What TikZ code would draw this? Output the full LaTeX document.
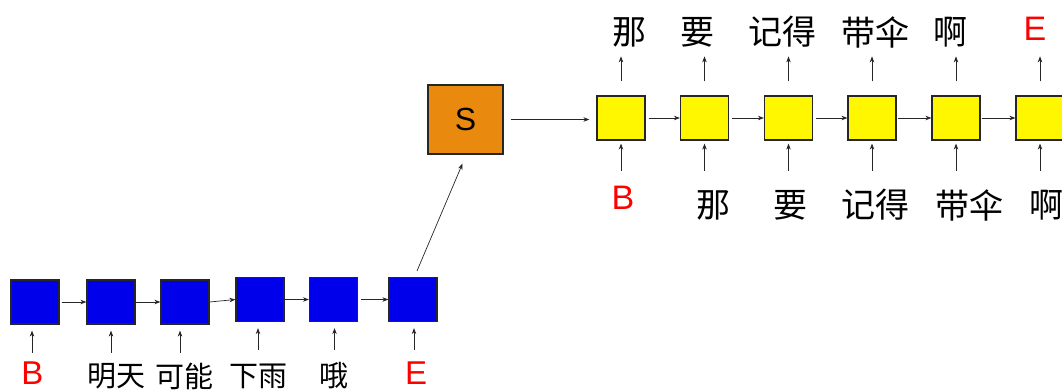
\documentclass[tikz,border=0pt]{standalone}
\usepackage{fontspec}
\setmainfont{Liberation Sans}
\newfontfamily\cjk{Noto Sans CJK SC}
\usetikzlibrary{arrows.meta}
\definecolor{encblue}{RGB}{0,0,235}
\definecolor{ctxorange}{RGB}{233,138,14}
\definecolor{decyellow}{RGB}{255,247,0}
\definecolor{tokred}{RGB}{255,0,0}

\begin{document}
\begin{tikzpicture}[x=1pt,y=-1pt,
  cell/.style={draw=black!85,line width=1.2pt,minimum width=48pt,minimum height=44pt,inner sep=0pt},
  enc/.style={cell,fill=encblue},
  dec/.style={cell,fill=decyellow},
  ctx/.style={draw=black!85,line width=1.2pt,fill=ctxorange,minimum width=75pt,minimum height=69pt,inner sep=0pt,font=\fontsize{32}{32}\selectfont},
  arr/.style={-{Stealth[length=6pt,width=4.5pt]},line width=0.7pt,draw=black!85},
  lat/.style={inner sep=0pt,text=tokred,font=\fontsize{34}{34}\selectfont},
  latsmall/.style={lat,font=\fontsize{33}{33}\selectfont},
  zh/.style={inner sep=0pt,font=\fontsize{34}{34}\cjk},
  zhs/.style={inner sep=0pt,font=\fontsize{29}{29}\cjk},
]
\useasboundingbox (0,0) rectangle (1062,391);
\begin{scope}
\clip (0,0) rectangle (1062,391);

% encoder cells
\node[enc] (e1) at (35,302) {};
\node[enc] (e2) at (111,302) {};
\node[enc] (e3) at (185,302) {};
\node[enc] (e4) at (260,299.5) {};
\node[enc] (e5) at (333.5,299.5) {};
\node[enc] (e6) at (413,299.5) {};

% context vector
\node[ctx] (s) at (465.5,119.5) {S};

% decoder cells
\node[dec] (d1) at (621,118) {};
\node[dec] (d2) at (704.5,118) {};
\node[dec] (d3) at (788.5,118) {};
\node[dec] (d4) at (872,118) {};
\node[dec] (d5) at (956,118) {};
\node[dec] (d6) at (1040,118) {};

% encoder inputs
\node[latsmall] (i1) at (32.5,373) {B};
\node[zhs] (i2) at (116,376) {明天};
\node[zhs] (i3) at (184,376) {可能};
\node[zhs] (i4) at (258,376) {下雨};
\node[zhs] (i5) at (334,376) {哦};
\node[latsmall] (i6) at (416,373) {E};

% decoder outputs
\node[zh] (o1) at (629,32) {那};
\node[zh] (o2) at (697,32) {要};
\node[zh] (o3) at (782,32) {记得};
\node[zh] (o4) at (875,32) {带伞};
\node[zh] (o5) at (950,32) {啊};
\node[lat] (o6) at (1035,29) {E};

% decoder inputs
\node[lat] (u1) at (623,198) {B};
\node[zh] (u2) at (713,205) {那};
\node[zh] (u3) at (790,205) {要};
\node[zh] (u4) at (875,205) {记得};
\node[zh] (u5) at (969,205) {带伞};
\node[zh] (u6) at (1046,205) {啊};

% encoder chain
\draw[arr,shorten <=2pt] (e1.east) -- (e2.west);
\draw[arr] (e2.east) -- (e3.west);
\draw[arr] (e3.east) -- (e4.west);
\draw[arr] (e4.east) -- (e5.west);
\draw[arr,shorten <=3pt] (e5.east) -- (e6.west);

% input arrows into encoder
\foreach \n/\dx in {e1/-3,e2/0,e3/-5,e4/-2,e5/1,e6/1}
  \draw[arr] ([xshift=\dx pt,yshift=-28pt]\n.south) -- ([xshift=\dx pt,yshift=-6pt]\n.south);

% encoder to context, context to decoder
\draw[arr] ([shift={(4,-6)}]e6.north) -- ([shift={(-3,9)}]s.south);
\draw[arr,shorten <=7pt,shorten >=7pt] (s.east) -- (d1.west |- s.east);

% decoder chain
\draw[arr,shorten <=3pt] (d1.east) -- (d2.west);
\draw[arr,shorten <=3pt] (d2.east) -- (d3.west);
\draw[arr,shorten <=3pt] (d3.east) -- (d4.west);
\draw[arr,shorten <=1pt] (d4.east) -- (d5.west);
\draw[arr,shorten <=1pt] (d5.east) -- (d6.west);

% decoder outputs and inputs
\foreach \n in {d1,d2,d3,d4,d5,d6}{
  \draw[arr] ([yshift=14pt]\n.north) -- ([yshift=39pt]\n.north);
  \draw[arr] ([yshift=-30pt]\n.south) -- ([yshift=-3pt]\n.south);
}
\end{scope}
\end{tikzpicture}
\end{document}
